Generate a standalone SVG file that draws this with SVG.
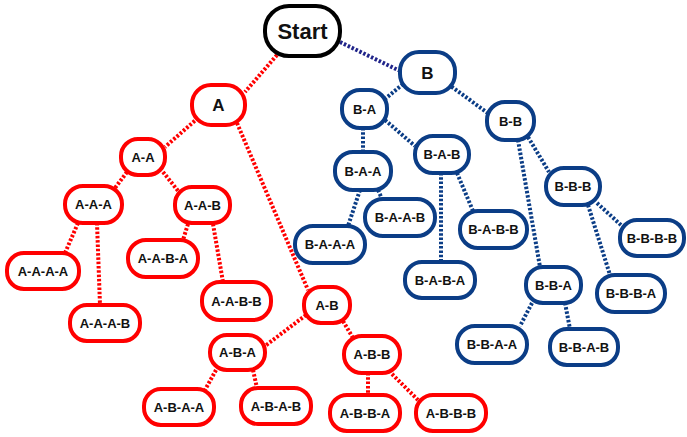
<svg xmlns="http://www.w3.org/2000/svg" width="687" height="437" viewBox="0 0 687 437">
  <style>
    .node rect { fill: #ffffff; stroke-width: 4; }
    .red rect { stroke: #ff0000; }
    .blue rect { stroke: #0b3d86; }
    .root rect { stroke: #000000; }
    .node text { font-family: "Liberation Sans", Arial, sans-serif; font-weight: bold; font-size: 13px; fill: #111111; text-anchor: middle; }
    .root text { font-size: 22px; }
    .big text { font-size: 17px; }
    #links line { stroke-width: 4; stroke-dasharray: 2.5 1.8; fill: none; }
    #links .lr { stroke: #ff0000; }
    #links .lb { stroke: #0b3d86; }
    #links .ln { stroke: #20248a; }
  </style>

  <!-- dotted connectors, drawn beneath the nodes -->
  <g id="links">
    <line class="lr" x1="277" y1="55" x2="245" y2="92"/>
    <line class="ln" x1="340" y1="42" x2="400" y2="71"/>
    <line class="lr" x1="198" y1="118" x2="165" y2="147"/>
    <line class="lr" x1="237" y1="123" x2="308" y2="290"/>
    <line class="lr" x1="127" y1="172" x2="115" y2="188"/>
    <line class="lr" x1="163" y1="172" x2="179" y2="192"/>
    <line class="lr" x1="78" y1="223" x2="65" y2="253"/>
    <line class="lr" x1="97" y1="223" x2="100" y2="305"/>
    <line class="lr" x1="188" y1="224" x2="183" y2="240"/>
    <line class="lr" x1="213" y1="224" x2="223" y2="282"/>
    <line class="lr" x1="306" y1="315" x2="265" y2="346"/>
    <line class="lr" x1="343" y1="321" x2="353" y2="338"/>
    <line class="lr" x1="216" y1="370" x2="205" y2="390"/>
    <line class="lr" x1="253" y1="370" x2="257" y2="388"/>
    <line class="lr" x1="368" y1="373" x2="368" y2="395"/>
    <line class="lr" x1="392" y1="374" x2="418" y2="400"/>
    <line class="lb" x1="403" y1="84" x2="385" y2="99"/>
    <line class="lb" x1="448" y1="84" x2="489" y2="114"/>
    <line class="lb" x1="363" y1="128" x2="363" y2="152"/>
    <line class="lb" x1="385" y1="120" x2="415" y2="146"/>
    <line class="lb" x1="360" y1="190" x2="348" y2="226"/>
    <line class="lb" x1="378" y1="190" x2="382" y2="199"/>
    <line class="lb" x1="441" y1="173" x2="441" y2="262"/>
    <line class="lb" x1="457" y1="173" x2="473" y2="211"/>
    <line class="lb" x1="518" y1="140" x2="540" y2="267"/>
    <line class="lb" x1="528" y1="137" x2="549" y2="172"/>
    <line class="lb" x1="588" y1="205" x2="610" y2="275"/>
    <line class="lb" x1="597" y1="203" x2="622" y2="226"/>
    <line class="lb" x1="532" y1="303" x2="520" y2="326"/>
    <line class="lb" x1="565" y1="303" x2="570" y2="329"/>
  </g>

  <g id="n-start" class="node root"><rect x="265" y="6" width="75" height="50" rx="24"/><text x="302.5" y="39">Start</text></g>
  <g id="n-a" class="node red big"><rect x="192" y="85" width="53" height="40" rx="19"/><text x="218.5" y="111">A</text></g>
  <g id="n-b" class="node blue big"><rect x="400" y="52" width="55" height="41" rx="19"/><text x="427.5" y="78.5">B</text></g>

  <g id="n-aa" class="node red"><rect x="121" y="139" width="44" height="36" rx="17"/><text x="143" y="161.5">A-A</text></g>
  <g id="n-ab" class="node red"><rect x="304" y="287" width="46" height="36" rx="17"/><text x="327" y="309.5">A-B</text></g>
  <g id="n-aaa" class="node red"><rect x="65" y="186" width="57" height="37" rx="18"/><text x="93.5" y="209">A-A-A</text></g>
  <g id="n-aab" class="node red"><rect x="175" y="187" width="55" height="36" rx="17"/><text x="202.5" y="209.5">A-A-B</text></g>
  <g id="n-aba" class="node red"><rect x="210" y="335" width="55" height="35" rx="17"/><text x="237.5" y="357">A-B-A</text></g>
  <g id="n-abb" class="node red"><rect x="344" y="336" width="56" height="37" rx="18"/><text x="372" y="359">A-B-B</text></g>
  <g id="n-aaaa" class="node red"><rect x="7" y="253" width="72" height="36" rx="17"/><text x="43" y="275.5">A-A-A-A</text></g>
  <g id="n-aaab" class="node red"><rect x="70" y="305" width="70" height="36" rx="17"/><text x="105" y="327.5">A-A-A-B</text></g>
  <g id="n-aaba" class="node red"><rect x="128" y="240" width="70" height="37" rx="18"/><text x="163" y="263">A-A-B-A</text></g>
  <g id="n-aabb" class="node red"><rect x="202" y="282" width="69" height="38" rx="18"/><text x="236.5" y="305.5">A-A-B-B</text></g>
  <g id="n-abaa" class="node red"><rect x="144" y="389" width="70" height="36" rx="17"/><text x="179" y="411.5">A-B-A-A</text></g>
  <g id="n-abab" class="node red"><rect x="241" y="388" width="70" height="36" rx="17"/><text x="276" y="410.5">A-B-A-B</text></g>
  <g id="n-abba" class="node red"><rect x="330" y="395" width="70" height="36" rx="17"/><text x="365" y="417.5">A-B-B-A</text></g>
  <g id="n-abbb" class="node red"><rect x="416" y="395" width="70" height="36" rx="17"/><text x="451" y="417.5">A-B-B-B</text></g>

  <g id="n-ba" class="node blue"><rect x="342" y="90" width="45" height="38" rx="18"/><text x="364.5" y="113.5">B-A</text></g>
  <g id="n-bb" class="node blue"><rect x="487" y="102" width="47" height="38" rx="18"/><text x="510.5" y="125.5">B-B</text></g>
  <g id="n-baa" class="node blue"><rect x="335" y="152" width="56" height="38" rx="18"/><text x="363" y="175.5">B-A-A</text></g>
  <g id="n-bab" class="node blue"><rect x="415" y="136" width="54" height="37" rx="18"/><text x="442" y="159">B-A-B</text></g>
  <g id="n-bbb" class="node blue"><rect x="546" y="168" width="54" height="37" rx="18"/><text x="573" y="191">B-B-B</text></g>
  <g id="n-bba" class="node blue"><rect x="526" y="267" width="55" height="36" rx="17"/><text x="553.5" y="289.5">B-B-A</text></g>
  <g id="n-baaa" class="node blue"><rect x="295" y="226" width="70" height="37" rx="18"/><text x="330" y="249">B-A-A-A</text></g>
  <g id="n-baab" class="node blue"><rect x="365" y="199" width="70" height="37" rx="18"/><text x="400" y="222">B-A-A-B</text></g>
  <g id="n-baba" class="node blue"><rect x="405" y="262" width="70" height="36" rx="17"/><text x="440" y="284.5">B-A-B-A</text></g>
  <g id="n-babb" class="node blue"><rect x="460" y="211" width="67" height="37" rx="18"/><text x="493.5" y="234">B-A-B-B</text></g>
  <g id="n-bbaa" class="node blue"><rect x="457" y="326" width="70" height="37" rx="18"/><text x="492" y="349">B-B-A-A</text></g>
  <g id="n-bbab" class="node blue"><rect x="550" y="329" width="68" height="36" rx="17"/><text x="584" y="351.5">B-B-A-B</text></g>
  <g id="n-bbba" class="node blue"><rect x="597" y="275" width="68" height="37" rx="18"/><text x="631" y="298">B-B-B-A</text></g>
  <g id="n-bbbb" class="node blue"><rect x="620" y="220" width="64" height="36" rx="17"/><text x="652" y="242.5">B-B-B-B</text></g>
</svg>
